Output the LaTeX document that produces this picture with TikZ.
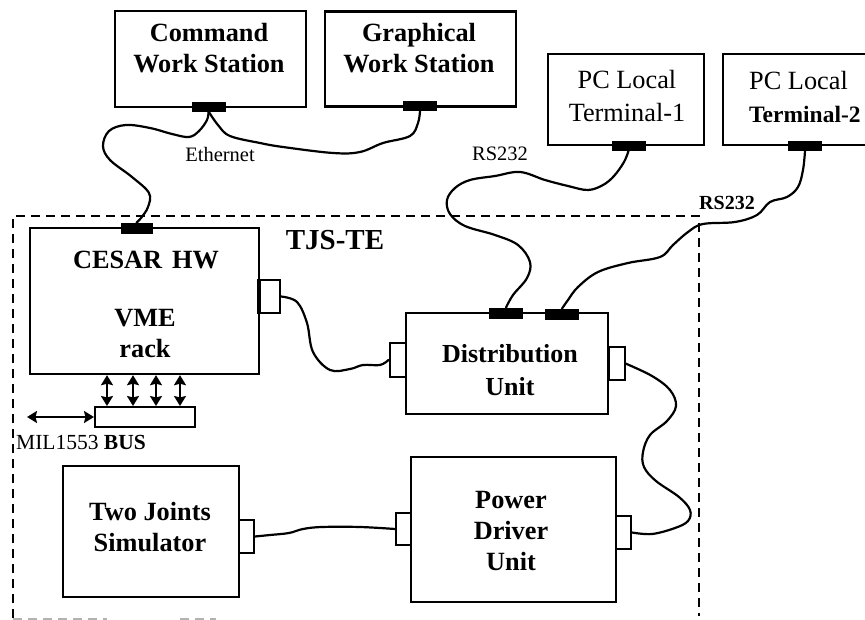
\documentclass[tikz,border=0pt]{standalone}
\usepackage{fontspec}
\setmainfont{Liberation Serif}
\usetikzlibrary{arrows.meta}
\begin{document}
\begin{tikzpicture}[x=1pt,y=-1pt,
  box/.style={draw, line width=2.4pt, inner sep=0pt, fill=white},
  conn/.style={fill=black, draw=black, line width=0.8pt, inner sep=0pt, minimum width=33pt, minimum height=9pt},
  port/.style={draw, fill=white, line width=2pt, inner sep=0pt, minimum width=16pt, minimum height=33pt},
  cable/.style={line width=2.2pt, line join=round, line cap=round},
  lbl/.style={font=\fontsize{26.3}{31}\selectfont\bfseries, align=center, inner sep=0pt},
  lblr/.style={font=\fontsize{26.3}{33}\selectfont, align=center, inner sep=0pt},
  small/.style={font=\fontsize{20.5}{23}\selectfont, inner sep=0pt},
  dbl/.style={{Stealth[length=10pt,width=12pt,inset=1.5pt]}-{Stealth[length=10pt,width=12pt,inset=1.5pt]}, line width=2.3pt},
  border/.style={line width=2pt, dash pattern=on 9pt off 6pt}
]
\useasboundingbox (0,0) rectangle (865,620);

% TJS-TE dashed enclosure
\draw[border] (13,618) -- (13,216) -- (699,216) -- (699,616);
\draw[border, gray!60, line width=1.5pt] (13,619) -- (107,619);
\draw[border, gray!60, line width=1.5pt] (180,619) -- (216,619);

% boxes
\node[box, minimum width=191pt, minimum height=96pt] (cmd) at (210.5,59) {};
\node[box, minimum width=191pt, minimum height=95pt] (gws) at (420.5,59) {};
\node[box, minimum width=156pt, minimum height=91pt] (t1) at (626,99.5) {};
\node[box, minimum width=166pt, minimum height=91pt] (t2) at (806,99.5) {};
\node[box, minimum width=229pt, minimum height=146pt] (cesar) at (144.5,301) {};
\node[box, minimum width=202pt, minimum height=101pt] (du) at (507,363.5) {};
\node[box, minimum width=176pt, minimum height=131pt] (tj) at (151,531.5) {};
\node[box, minimum width=205pt, minimum height=145pt] (pdu) at (513.5,529.5) {};
\node[box, line width=2pt, minimum width=100pt, minimum height=20pt] (bus) at (145,417) {};

% connectors
\node[conn] (cwc) at (208.5,106.5) {};
\node[conn] (gwc) at (420,106) {};
\node[conn] (t1c) at (628.5,146) {};
\node[conn] (t2c) at (805,146) {};
\node[conn, minimum width=31pt, minimum height=10pt] (cesc) at (136.5,228) {};
\node[conn, minimum height=10pt] (duc1) at (506,313) {};
\node[conn, minimum height=10pt] (duc2) at (562,314) {};

% ports
\node[port, minimum width=20pt] (cesp) at (270,296.5) {};
\draw[line width=4pt] (cesp.north west) -- (cesp.south west);
\node[port, minimum height=34pt] (dul) at (397.5,360) {};
\node[port] (dur) at (616.5,363.5) {};
\node[port, minimum width=15pt] (tjp) at (246.5,536.5) {};
\node[port, minimum width=15pt, minimum height=32pt] (pdl) at (403.5,529) {};
\node[port, minimum width=15pt] (pdr) at (623.5,532.5) {};

% cables
\draw[cable] plot[smooth, tension=0.6] coordinates {(cwc.south) (207,120) (199,131) (189,137) (172,134) (150,128) (126,125) (109,131) (103,146) (110,160) (132,177) (149,193) (148,207) (141,218) (cesc.north)};
\draw[cable] plot[smooth, tension=0.6] coordinates {(cwc.south) (218,125) (230,136) (260,143) (283,147) (333,153) (360,152) (383,143) (410,136) (418,123) (gwc.south)};
\draw[cable] plot[smooth, tension=0.6] coordinates {(t1c.south) (624,162) (614,176) (603,185) (588,190) (568,186) (545,180) (520,172) (495,176) (470,180) (455,188) (447,200) (450,214) (465,226) (495,235) (518,245) (530,262) (527,278) (513,295) (duc1.north)};
\draw[cable] plot[smooth, tension=0.6] coordinates {(t2c.south) (803,170) (798,187) (787,197) (770,202) (757,215) (735,222) (703,224) (688,232) (673,245) (660,257) (628,263) (598,272) (578,287) (568,300) (duc2.north)};
\draw[cable] plot[smooth, tension=0.6] coordinates {(cesp.east) (297,302) (307,323) (313,352) (330,370) (350,369) (363,365) (380,365) (dul.west)};
\draw[cable] plot[smooth, tension=0.6] coordinates {(dur.east) (652,376) (670,390) (676,406) (667,421) (650,435) (643,452) (644,467) (656,481) (679,497) (690,510) (688,521) (675,528) (652,534) (pdr.east)};
\draw[cable] plot[smooth, tension=0.6] coordinates {(tjp.east) (270,535) (289,533) (303,529) (322,527) (360,527) (pdl.west)};

% bus arrows
\foreach \x in {107,133,156,180} {
  \draw[dbl] (\x,0 |- cesar.south) -- (\x,0 |- bus.north);
}
\coordinate (busend) at (27,417);
\draw[dbl] (busend) -- (bus.west);

% texts
\node[lbl] (cmdt) at (209,48) {Command\\Work Station};
\node[lbl] (gwst) at (419,48) {Graphical\\Work Station};
\node[lblr] (t1t) at (627,96.5) {PC Local\\Terminal-1};
\node[lblr, align=left, anchor=west] (t2t) at (749,96.5) {PC Local\\\fontsize{23.5}{33}\selectfont\textbf{Terminal-2}};
\node[lbl] (cest) at (146,260) {CESAR\hspace{10pt}HW};
\node[lbl] (vmet) at (145,333.5) {VME\\rack};
\node[lbl, font=\fontsize{29}{33}\selectfont\bfseries] (tjst) at (335,240) {TJS-TE};
\node[lbl, font=\fontsize{26}{33}\selectfont\bfseries] (dut) at (510,370.5) {Distribution\\Unit};
\node[lbl] (pdut) at (511,531) {Power\\Driver\\Unit};
\node[lbl] (tjt) at (150,527.5) {Two Joints\\Simulator};
\node[small] (etht) at (220,154) {Ethernet};
\node[small] (rs1) at (500,154) {RS232};
\node[small, font=\fontsize{20}{23}\selectfont\bfseries] (rs2) at (727,203) {RS232};
\node[small, anchor=west, font=\fontsize{21.5}{24}\selectfont] (milt) at (16,442) {MIL1553 \textbf{BUS}};
\end{tikzpicture}
\end{document}
